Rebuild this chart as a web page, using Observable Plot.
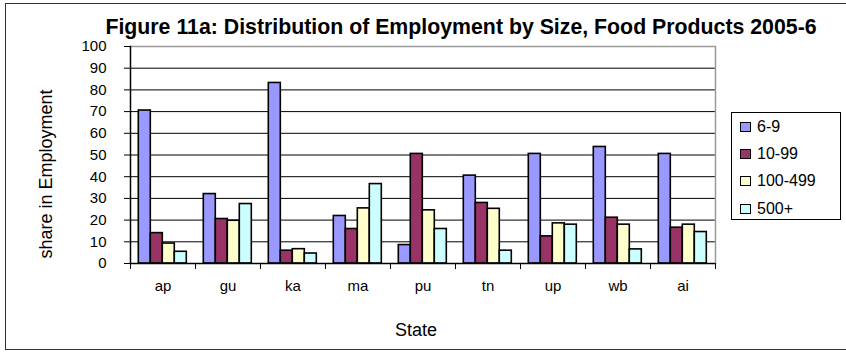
<!DOCTYPE html>
<html>
<head>
<meta charset="utf-8">
<script src="https://cdn.jsdelivr.net/npm/d3@7"></script>
<script src="https://cdn.jsdelivr.net/npm/@observablehq/plot@0.6"></script>
<style>
  html, body { margin: 0; padding: 0; background: #fff; }
  #wrap { position: relative; width: 846px; height: 354px; overflow: hidden; font-family: "Liberation Sans", Arial, sans-serif; color: #000; }
  #outer { position: absolute; left: 5px; top: 3px; width: 900px; height: 347px; border: 1.5px solid #333; box-sizing: border-box; }
  #chart { position: absolute; left: 0; top: 0; }
  #title { position: absolute; left: 0; width: 922px; top: 17px; text-align: center; font-weight: bold; font-size: 21.3px; line-height: 21px; white-space: nowrap; }
  #ylab { position: absolute; left: 46px; top: 174px; transform: translate(-50%, -50%) rotate(-90deg); font-size: 18px; white-space: nowrap; }
  #xlab { position: absolute; left: 416px; top: 320px; transform: translateX(-50%); font-size: 18px; line-height: 20px; white-space: nowrap; }
  #legend { position: absolute; left: 731px; top: 112px; width: 110px; height: 108px; border: 1px solid #000; box-sizing: border-box; background: #fff; }
  .item { position: absolute; left: 8px; font-size: 16px; line-height: 18px; display: flex; align-items: center; white-space: nowrap; }
  .sw { width: 11px; height: 10px; border: 1.5px solid #000; box-sizing: border-box; margin-right: 6px; }
</style>
</head>
<body>
<div id="wrap">
  <div id="outer"></div>
  <div id="chart"></div>
  <div id="title">Figure 11a: Distribution of Employment by Size, Food Products 2005-6</div>
  <div id="ylab">share in Employment</div>
  <div id="xlab">State</div>
  <div id="legend"></div>
</div>
<script>
const states = ["ap", "gu", "ka", "ma", "pu", "tn", "up", "wb", "ai"];
const sizes = ["6-9", "10-99", "100-499", "500+"];
const share6to9 = [70.5, 32.0, 83.2, 21.9, 8.5, 40.5, 50.5, 53.7, 50.5];
const share10to99 = [14.0, 20.5, 5.9, 15.9, 50.5, 27.9, 12.5, 21.1, 16.5];
const share100to499 = [9.2, 19.7, 6.6, 25.4, 24.5, 25.2, 18.5, 17.9, 17.9];
const share500plus = [5.4, 27.4, 4.6, 36.6, 15.9, 5.9, 17.9, 6.5, 14.5];
const colors = ["#9999ff", "#993366", "#ffffcc", "#ccffff"];
const yTicks = [0, 10, 20, 30, 40, 50, 60, 70, 80, 90, 100];

const series = [share6to9, share10to99, share100to499, share500plus];
const rows = states.flatMap((s, i) => sizes.map((z, j) => ({state: s, size: z, value: series[j][i]})));

const W = 846, H = 354, mTop = 46, mBottom = 91, mLeft = 126.7, mRight = 126.7;
const plotH = H - mTop - mBottom;

const chart = Plot.plot({
  width: W,
  height: H,
  marginTop: mTop,
  marginBottom: mBottom,
  marginLeft: mLeft,
  marginRight: mRight,
  style: {fontFamily: "'Liberation Sans', Arial, sans-serif", fontSize: "15px", color: "#000", background: "transparent"},
  fx: {domain: states, padding: 0, label: null, axis: "bottom", tickSize: 0, tickPadding: 17},
  x: {domain: sizes, axis: null, paddingInner: 0, paddingOuter: 0.67},
  y: {domain: [0, 100], axis: null},
  color: {domain: sizes, range: colors},
  marks: [
    Plot.ruleY(yTicks.slice(1, -1), {stroke: "#000", strokeWidth: 1}),
    Plot.ruleY([100], {stroke: "#999", strokeWidth: 1.5}),
    Plot.barY(rows, {fx: "state", x: "size", y: "value", fill: "size", stroke: "#000", strokeWidth: 1.6}),
    Plot.ruleY([0], {stroke: "#000", strokeWidth: 1.5}),
    Plot.frame({anchor: "left", fx: ["ap"], stroke: "#000", strokeWidth: 1.5}),
    Plot.frame({anchor: "right", fx: ["ai"], stroke: "#999", strokeWidth: 1.5}),
    Plot.frame({anchor: "left", stroke: "#000", strokeWidth: 1, insetTop: plotH, insetBottom: -5}),
    Plot.frame({anchor: "right", fx: ["ai"], stroke: "#000", strokeWidth: 1, insetTop: plotH, insetBottom: -5}),
    Plot.axisY({ticks: yTicks, tickSize: 6, tickPadding: 18, label: null, anchor: "left", fontSize: 15, tickFormat: d => String(d)})
  ]
});
document.getElementById("chart").appendChild(chart);

const legend = document.getElementById("legend");
const tops = [5, 32, 59, 87];
sizes.forEach((z, j) => {
  const it = document.createElement("div");
  it.className = "item";
  it.style.top = tops[j] + "px";
  const sw = document.createElement("div");
  sw.className = "sw";
  sw.style.background = colors[j];
  it.appendChild(sw);
  it.appendChild(document.createTextNode(z));
  legend.appendChild(it);
});
</script>
</body>
</html>
